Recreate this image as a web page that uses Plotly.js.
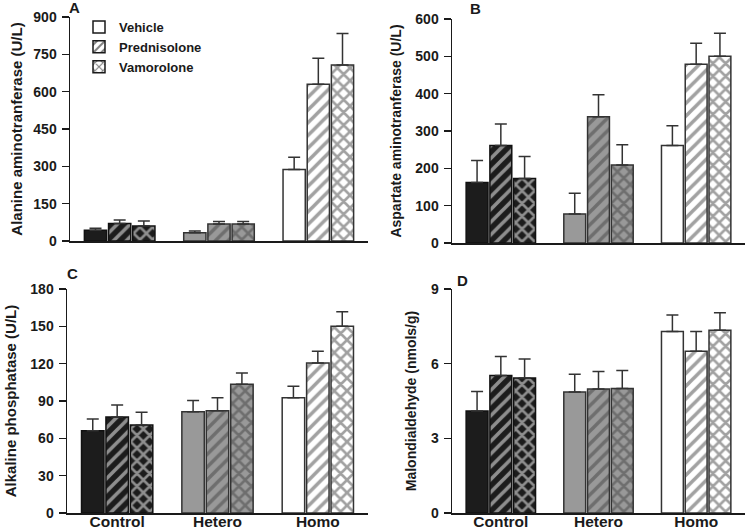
<!DOCTYPE html>
<html>
<head>
<meta charset="utf-8">
<script src="https://cdn.plot.ly/plotly-3.0.1.min.js"></script>
<style>html,body{margin:0;padding:0;background:#fff;}#chart{width:750px;height:529px;}</style>
</head>
<body>
<div id="chart"></div>
<script>
// ---- data ----
const groups = ['Control', 'Hetero', 'Homo'];
const treatments = ['Vehicle', 'Prednisolone', 'Vamorolone'];

// Panel A: Alanine aminotransferase (U/L)  [Vehicle, Prednisolone, Vamorolone] per group
const altVehicle = [43, 33, 287];
const altPred    = [70, 68, 630];
const altVam     = [60, 68, 707];
const altVehicleErr = [8, 7, 49];
const altPredErr    = [14, 10, 104];
const altVamErr     = [20, 10, 127];

// Panel B: Aspartate aminotransferase (U/L)
const astVehicle = [162, 78, 261];
const astPred    = [261, 338, 479];
const astVam     = [173, 209, 500];
const astVehicleErr = [59, 55, 53];
const astPredErr    = [58, 59, 56];
const astVamErr     = [59, 54, 62];

// Panel C: Alkaline phosphatase (U/L)
const alpVehicle = [66, 81.4, 92.7];
const alpPred    = [77.1, 82.2, 120.5];
const alpVam     = [70.7, 103.4, 150];
const alpVehicleErr = [9.6, 9.1, 9.1];
const alpPredErr    = [9.7, 10.5, 9.4];
const alpVamErr     = [10.2, 9.1, 11.8];

// Panel D: Malondialdehyde (nmols/g)
const mdaVehicle = [4.10, 4.86, 7.29];
const mdaPred    = [5.52, 4.98, 6.50];
const mdaVam     = [5.42, 5.00, 7.34];
const mdaVehicleErr = [0.78, 0.71, 0.67];
const mdaPredErr    = [0.77, 0.71, 0.79];
const mdaVamErr     = [0.77, 0.73, 0.71];

const panelTitles = ['Alanine aminotranferase (U/L)', 'Aspartate aminotranferase (U/L)',
                     'Alkaline phosphatase (U/L)', 'Malondialdehyde (nmols/g)'];
const panelLetters = ['A', 'B', 'C', 'D'];
const yTicks = [
  [0, 150, 300, 450, 600, 750, 900],
  [0, 100, 200, 300, 400, 500, 600],
  [0, 30, 60, 90, 120, 150, 180],
  [0, 3, 6, 9]
];

// ---- styling ----
const W = 750, H = 529;
const FONT = 'Liberation Sans, Arial, sans-serif';
const groupBg = ['#1c1c1c', '#999999', '#ffffff'];
const groupFg = ['#ffffff', '#1a1a1a', '#000000'];
const groupLine = ['#111111', '#333333', '#333333'];
const shapes = ['', '/', 'x'];

const panels = [
  {vals: [altVehicle, altPred, altVam], errs: [altVehicleErr, altPredErr, altVamErr]},
  {vals: [astVehicle, astPred, astVam], errs: [astVehicleErr, astPredErr, astVamErr]},
  {vals: [alpVehicle, alpPred, alpVam], errs: [alpVehicleErr, alpPredErr, alpVamErr]},
  {vals: [mdaVehicle, mdaPred, mdaVam], errs: [mdaVehicleErr, mdaPredErr, mdaVamErr]}
];
// pixel boxes [x0, x1, y0(top), y1(bottom)]
const boxes = [
  [70, 368, 17, 241],
  [452, 745, 19, 243],
  [67, 368, 289, 513],
  [452, 745, 289, 513]
];
const standoffs = [7, 10, 10, 11];
const titleSizes = [15, 14, 15, 14];

const traces = [];
const layout = {
  width: W, height: H,
  margin: {l: 0, r: 0, t: 0, b: 0},
  paper_bgcolor: '#fff', plot_bgcolor: '#fff',
  barmode: 'group', bargap: 0.27, bargroupgap: 0.08,
  font: {family: FONT, color: '#1a1a1a'},
  showlegend: true,
  legend: {
    x: 79 / W, y: 1 - 12 / H, xanchor: 'left', yanchor: 'top',
    bgcolor: 'rgba(0,0,0,0)', font: {family: FONT, size: 13, color: '#1a1a1a', weight: 'bold'},
    tracegroupgap: 0, itemwidth: 30
  },
  annotations: [],
  shapes: []
};

panels.forEach((p, i) => {
  const n = i + 1;
  const xa = 'x' + (n === 1 ? '' : n), ya = 'y' + (n === 1 ? '' : n);
  const b = boxes[i];
  for (let t = 0; t < 3; t++) {
    const pattern = t === 0 ? {shape: ''} : {
      shape: shapes[t], bgcolor: groupBg, fgcolor: groupFg,
      size: t === 1 ? 9 : 9, solidity: t === 1 ? 0.4 : 0.5, fillmode: 'overlay'
    };
    traces.push({
      type: 'bar', x: groups, y: p.vals[t], name: treatments[t],
      xaxis: xa, yaxis: ya, showlegend: false,
      marker: {color: groupBg, line: {color: groupLine, width: 1.5}, pattern: pattern},
      error_y: {type: 'data', symmetric: false,
        array: p.errs[t], arrayminus: p.errs[t].map(() => 0),
        color: '#333333', thickness: 1.5, width: 6},
      hoverinfo: 'skip'
    });
  }
  const bottom = i >= 2;
  layout['xaxis' + (n === 1 ? '' : n)] = {
    domain: [b[0] / W, b[1] / W], anchor: ya,
    showline: true, linecolor: '#1a1a1a', linewidth: 1.5,
    ticks: '', showgrid: false, zeroline: false,
    showticklabels: bottom, ticklabelstandoff: -6,
    tickfont: {family: FONT, size: 15.5, color: '#1a1a1a', weight: 'bold'},
    fixedrange: true
  };
  layout['yaxis' + (n === 1 ? '' : n)] = {
    domain: [1 - b[3] / H, 1 - b[2] / H], anchor: xa,
    range: [0, yTicks[i][yTicks[i].length - 1]],
    tickvals: yTicks[i], ticktext: yTicks[i].map(String),
    showline: true, linecolor: '#1a1a1a', linewidth: 1.5,
    ticks: 'outside', ticklen: 7, tickwidth: 1.5, tickcolor: '#1a1a1a',
    ticklabelstandoff: 2,
    showgrid: false, zeroline: false,
    tickfont: {family: FONT, size: 14, color: '#1a1a1a', weight: 'bold'},
    title: {text: panelTitles[i], standoff: standoffs[i],
      font: {family: FONT, size: titleSizes[i], color: '#1a1a1a', weight: 'bold'}},
    fixedrange: true
  };
});

// panel letters
const letterPos = [[67, 7], [468, 8], [65, 273], [455, 280]];
panelLetters.forEach((L, i) => {
  layout.annotations.push({
    text: L, xref: 'paper', yref: 'paper',
    x: letterPos[i][0] / W, y: 1 - letterPos[i][1] / H,
    xanchor: 'left', yanchor: 'middle', showarrow: false,
    font: {family: FONT, size: 15, color: '#1a1a1a', weight: 'bold'}
  });
});

// legend-only traces on a hidden subplot (white swatches)
for (let t = 0; t < 3; t++) {
  traces.push({
    type: 'bar', x: [groups[0]], y: [null], name: treatments[t],
    xaxis: 'x5', yaxis: 'y5', showlegend: true,
    marker: {color: '#ffffff', line: {color: '#1a1a1a', width: 1.5},
      pattern: t === 0 ? {shape: ''} : {shape: shapes[t], bgcolor: '#ffffff', fgcolor: '#000000', size: 7, solidity: 0.35, fillmode: 'overlay'}},
    hoverinfo: 'skip'
  });
}
layout.xaxis5 = {domain: [0, 0.01], anchor: 'y5', visible: false};
layout.yaxis5 = {domain: [0, 0.01], anchor: 'x5', visible: false};

Plotly.newPlot('chart', traces, layout, {staticPlot: true, displayModeBar: false});
</script>
</body>
</html>
